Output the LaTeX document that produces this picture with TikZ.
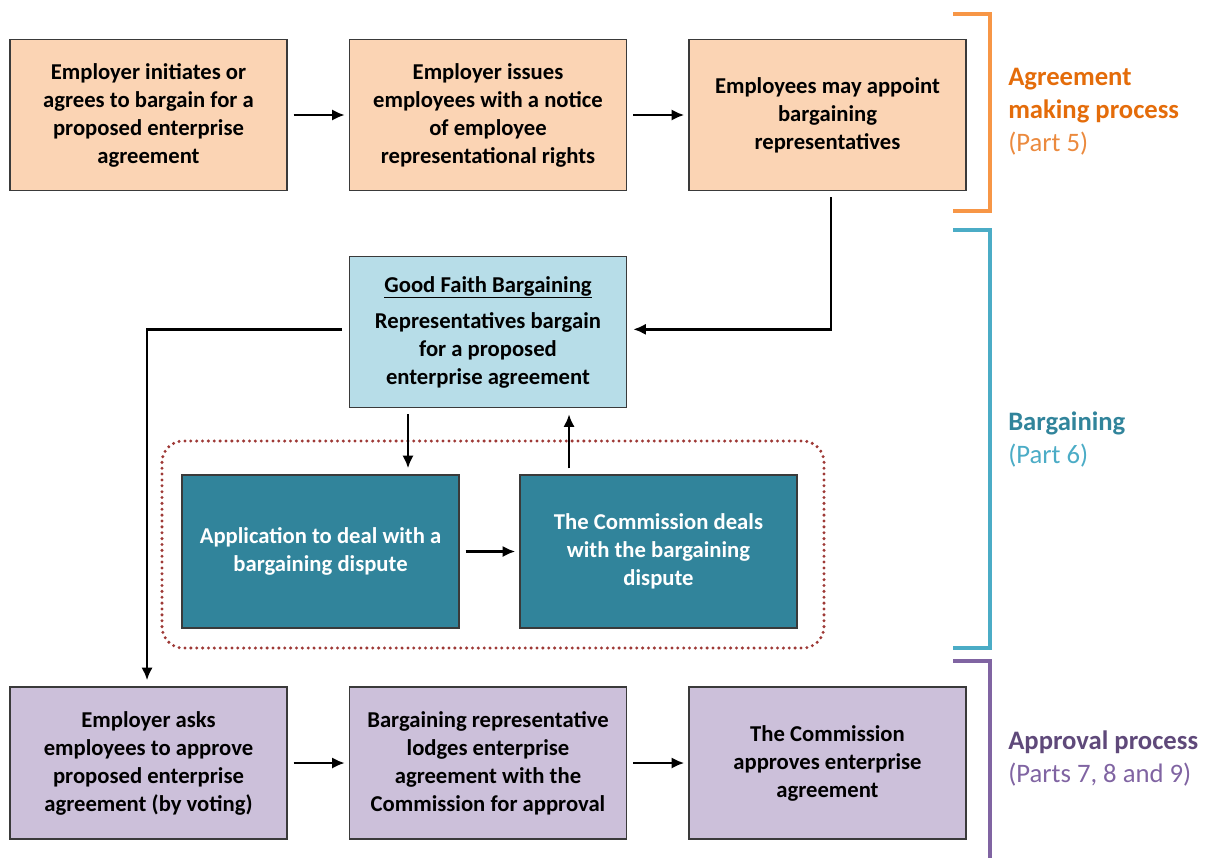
\documentclass[tikz,border=0pt]{standalone}
\usepackage{fontspec}
\setmainfont{Carlito}
\usetikzlibrary{arrows.meta}

\definecolor{peach}{HTML}{FBD4B4}
\definecolor{skyfill}{HTML}{B7DDE8}
\definecolor{tealfill}{HTML}{31849B}
\definecolor{lilac}{HTML}{CCC0DA}
\definecolor{boxline}{HTML}{3A3A3A}
\definecolor{dotred}{HTML}{9E3936}
\definecolor{brorange}{HTML}{F79646}
\definecolor{lborange}{HTML}{E46C0A}
\definecolor{lborangelt}{HTML}{EB8A3E}
\definecolor{brteal}{HTML}{4BACC6}
\definecolor{lbteal}{HTML}{31849B}
\definecolor{brpurple}{HTML}{8064A2}
\definecolor{lbpurple}{HTML}{5F497A}

\tikzset{
  stagebox/.style={draw=boxline, line width=1.1pt, inner sep=0pt,
    minimum width=207.75pt, minimum height=113.25pt, align=center,
    font=\fontsize{17}{21}\selectfont\bfseries},
  agree/.style={stagebox, fill=peach},
  barg/.style={stagebox, fill=skyfill},
  dispute/.style={stagebox, fill=tealfill, text=white, minimum height=114.75pt},
  approve/.style={stagebox, fill=lilac, minimum height=114pt},
  flow/.style={line width=1.9pt, -{Latex[length=9.5pt,width=8.5pt]}},
  bracket/.style={line width=2.4pt},
  grouplabel/.style={anchor=west, align=left, inner sep=0pt,
    font=\fontsize{20}{24.75}\selectfont}
}

\begin{document}
\begin{tikzpicture}[x=0.75pt,y=-0.75pt]
\useasboundingbox (0,0) rectangle (1206,857);

% agreement making stage
\node[agree] (a1) at (148.5,115) {Employer initiates or\\agrees to bargain for a\\proposed enterprise\\agreement};
\node[agree] (a2) at (488,115) {Employer issues\\employees with a notice\\of employee\\representational rights};
\node[agree] (a3) at (827.5,115) {Employees may appoint\\bargaining\\representatives};

% bargaining stage
\node[barg] (gfb) at (488,332) {\underline{Good Faith Bargaining}\\[6pt]Representatives bargain\\for a proposed\\enterprise agreement};
\node[dispute] (d1) at (320.5,551.5) {Application to deal with a\\bargaining dispute};
\node[dispute] (d2) at (658.5,551.5) {The Commission deals\\with the bargaining\\dispute};

% approval stage
\node[approve] (p1) at (148.5,763) {Employer asks\\employees to approve\\proposed enterprise\\agreement (by voting)};
\node[approve] (p2) at (488,763) {Bargaining representative\\lodges enterprise\\agreement with the\\Commission for approval};
\node[approve] (p3) at (827.5,763) {The Commission\\approves enterprise\\agreement};

% dispute resolution group outline
\draw[dotred, line width=2.5pt, line cap=round, dash pattern=on 0pt off 4.4pt,
  rounded corners=16pt] (162,441) rectangle (824,648);

% connectors
\draw[flow, shorten <=4.5pt, shorten >=3pt] (a1) -- (a2);
\draw[flow, shorten <=4.5pt, shorten >=3pt] (a2) -- (a3);
\draw[flow, shorten <=4.5pt, shorten >=3pt] (p1) -- (p2);
\draw[flow, shorten <=4.5pt, shorten >=3pt] (p2) -- (p3);
\draw[flow, shorten <=4.5pt, shorten >=3pt] (d1) -- (d2);

\coordinate (a3out) at ([xshift=2.6pt]a3.south);
\coordinate (gfbin) at ([yshift=2pt]gfb.east);
\draw[flow, shorten <=4.5pt, shorten >=4.5pt] (a3out) |- (gfbin);

\coordinate (gfbout) at ([yshift=2pt]gfb.west);
\coordinate (p1in) at ([xshift=-1.1pt]p1.north);
\draw[flow, shorten <=5pt, shorten >=4.5pt] (gfbout) -| (p1in);

\coordinate (gdown) at ([xshift=-60pt]gfb.south);
\draw[flow, shorten <=4.5pt, shorten >=4.5pt] (gdown) -- (gdown |- d1.north);

\coordinate (gup) at ([xshift=-67.1pt]d2.north);
\draw[flow, shorten <=4.5pt, shorten >=4.5pt] (gup) -- (gup |- gfb.south);

% stage brackets
\draw[bracket, brorange] (953,14) -- (990,14) -- (990,211) -- (953,211);
\draw[bracket, brteal] (953,230) -- (990,230) -- (990,648) -- (953,648);
\draw[bracket, brpurple] (953,661) -- (990,661) -- (990,860);

% stage labels
\node[grouplabel] (l1) at (1008,112) {\textcolor{lborange}{\bfseries Agreement}\\\textcolor{lborange}{\bfseries making process}\\\textcolor{lborangelt}{(Part 5)}};
\node[grouplabel] (l2) at (1008,439) {\textcolor{lbteal}{\bfseries Bargaining}\\\textcolor{brteal}{(Part 6)}};
\node[grouplabel] (l3) at (1008,758) {\textcolor{lbpurple}{\bfseries Approval process}\\\textcolor{brpurple}{(Parts 7, 8 and 9)}};
\end{tikzpicture}
\end{document}
